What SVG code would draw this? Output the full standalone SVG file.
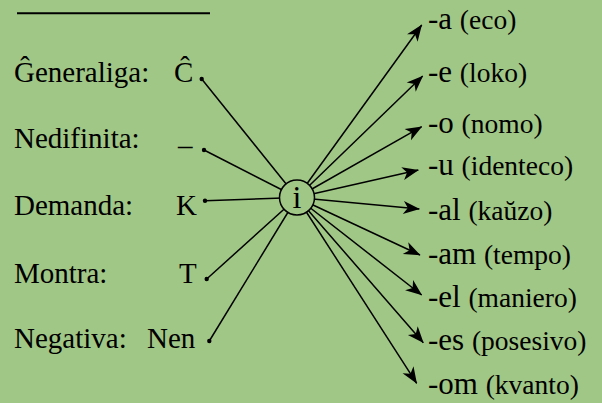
<svg xmlns="http://www.w3.org/2000/svg" width="602" height="403" viewBox="0 0 602 403">
<style>
text{font-family:'Liberation Serif','Times New Roman',serif;fill:#000}
.lbl{font-size:29px}
.suf{font-size:31px}
.par{font-size:27.5px}
.ln{stroke:#000;stroke-width:1.5;fill:none}
.ar{stroke:#000;stroke-width:1.5;fill:none;marker-end:url(#ah)}
.dot{fill:#000}
</style>
<defs>
<marker id="ah" markerWidth="18" markerHeight="15" viewBox="-17 -7.5 18 15" refX="0" refY="0" orient="auto" markerUnits="userSpaceOnUse">
<path d="M0.5,0 L-16,-6.5 L-11.5,0 L-16,6.5 Z" fill="#000"/>
</marker>
</defs>
<rect width="602" height="403" fill="#a0c786"/>
<g id="title">
<line x1="17" y1="13.3" x2="210" y2="13.3" stroke="#000" stroke-width="2"/>
</g>
<g id="connectors">
<line class="ln" x1="201.7" y1="79" x2="297" y2="197.5"/>
<line class="ln" x1="204" y1="150" x2="297" y2="197.5"/>
<line class="ln" x1="205" y1="200.7" x2="297" y2="197.5"/>
<line class="ln" x1="206.7" y1="279" x2="297" y2="197.5"/>
<line class="ln" x1="209.3" y1="341" x2="297" y2="197.5"/>
<circle class="dot" cx="201.7" cy="79" r="2.2"/>
<circle class="dot" cx="204" cy="150" r="2.2"/>
<circle class="dot" cx="205" cy="200.7" r="2.2"/>
<circle class="dot" cx="206.7" cy="279" r="2.2"/>
<circle class="dot" cx="209.3" cy="341" r="2.2"/>
<line class="ar" x1="297" y1="197.5" x2="421.7" y2="25"/>
<line class="ar" x1="297" y1="197.5" x2="422.7" y2="76"/>
<line class="ar" x1="297" y1="197.5" x2="421.7" y2="126.7"/>
<line class="ar" x1="297" y1="197.5" x2="418.3" y2="170"/>
<line class="ar" x1="297" y1="197.5" x2="419.3" y2="209"/>
<line class="ar" x1="297" y1="197.5" x2="420" y2="255"/>
<line class="ar" x1="297" y1="197.5" x2="421.7" y2="295"/>
<line class="ar" x1="297" y1="197.5" x2="423.3" y2="342.7"/>
<line class="ar" x1="297" y1="197.5" x2="416.7" y2="383.3"/>
</g>
<g id="node-i">
<circle cx="297" cy="197.5" r="17.5" fill="#a0c786" stroke="#000" stroke-width="1.5"/>
<text x="297" y="208" font-size="32" text-anchor="middle">i</text>
</g>
<g id="node-generaliga"><text x="14" y="82" class="lbl">Ĝeneraliga:</text><text x="174" y="82" class="lbl">Ĉ</text></g>
<g id="node-nedifinita"><text x="14" y="148" class="lbl">Nedifinita:</text><text x="178" y="155" class="lbl">–</text></g>
<g id="node-demanda"><text x="14" y="215" class="lbl">Demanda:</text><text x="176" y="215" class="lbl">K</text></g>
<g id="node-montra"><text x="14" y="283" class="lbl">Montra:</text><text x="179" y="283" class="lbl">T</text></g>
<g id="node-negativa"><text x="14" y="348" class="lbl">Negativa:</text><text x="147" y="348" class="lbl">Nen</text></g>
<g id="node-a"><text x="428" y="29" class="suf">-a <tspan class="par">(eco)</tspan></text></g>
<g id="node-e"><text x="428" y="82" class="suf">-e <tspan class="par">(loko)</tspan></text></g>
<g id="node-o"><text x="428" y="133" class="suf">-o <tspan class="par">(nomo)</tspan></text></g>
<g id="node-u"><text x="428" y="175" class="suf">-u <tspan class="par">(identeco)</tspan></text></g>
<g id="node-al"><text x="428" y="220" class="suf">-al <tspan class="par">(kaŭzo)</tspan></text></g>
<g id="node-am"><text x="428" y="264" class="suf">-am <tspan class="par">(tempo)</tspan></text></g>
<g id="node-el"><text x="428" y="307" class="suf">-el <tspan class="par">(maniero)</tspan></text></g>
<g id="node-es"><text x="428" y="350" class="suf">-es <tspan class="par">(posesivo)</tspan></text></g>
<g id="node-om"><text x="428" y="394" class="suf">-om <tspan class="par">(kvanto)</tspan></text></g>
</svg>
